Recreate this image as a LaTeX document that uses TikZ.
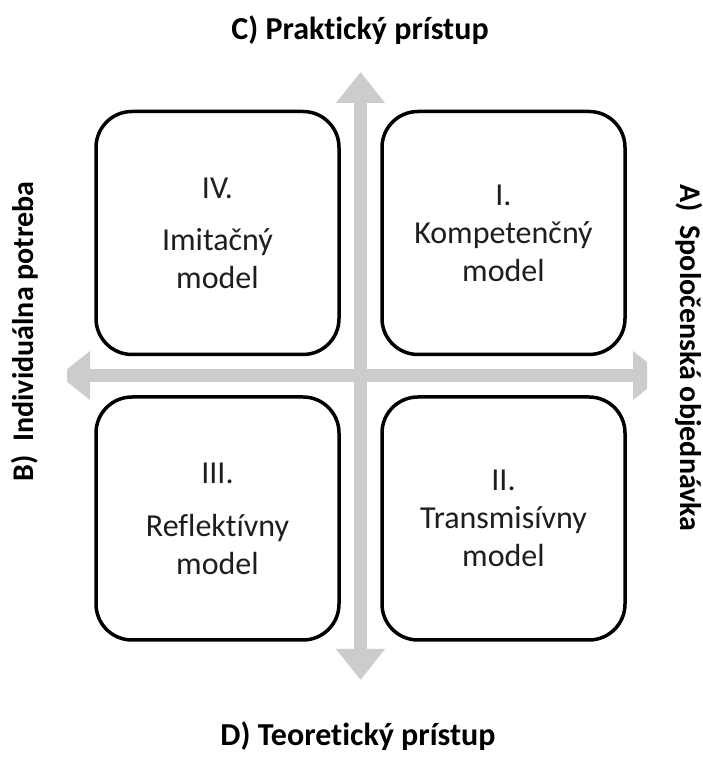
\documentclass[tikz,border=0pt]{standalone}
\usepackage{fontspec}
\setmainfont{Carlito}[Ligatures={NoCommon,TeX}]
\usetikzlibrary{arrows.meta}
\definecolor{axisgray}{RGB}{204,204,204}
\definecolor{boxtext}{RGB}{30,30,30}
\begin{document}
\begin{tikzpicture}[x=1pt,y=1pt,
  axis/.style={draw=axisgray, line width=13pt,
    {Triangle[width=47pt,length=31pt]}-{Triangle[width=47pt,length=31pt]}},
  quad/.style={draw=black, line width=3.5pt, rounded corners=36pt,
    minimum width=243pt, minimum height=243pt, align=center, inner sep=0pt,
    text=boxtext, font={\fontsize{32}{38}\selectfont}},
  axlabel/.style={font={\fontsize{30}{36}\selectfont\bfseries}, inner sep=0pt, anchor=base},
  biglabel/.style={axlabel, font={\fontsize{32}{38}\selectfont\bfseries}}]
\useasboundingbox (0,0) rectangle (703,763);
\fill[white] (0,0) rectangle (703,763);
% axes
\coordinate (vtop) at (360.5,691);
\coordinate (vbot) at (360.5,83);
\coordinate (hleft) at (59,387.5);
\coordinate (hright) at (664,387.5);
\draw[axis] (vbot) -- (vtop);
\begin{scope}
  \clip (67,0) rectangle (647,763);
  \draw[axis] (hleft) -- (hright);
\end{scope}
% quadrants
\node[quad] (q4) at (217.5,530) {IV.\\[14pt]Imitačný\\model};
\node[quad] (q1) at (503.5,530) {I.\\Kompetenčný\\model};
\node[quad] (q3) at (217.5,244.5) {III.\\[15pt]Reflektívny\\model};
\node[quad] (q2) at (503.5,244.5) {II.\\Transmisívny\\model};
% axis labels
\node[biglabel] (lc) at (360,723) {C) Praktický prístup};
\node[biglabel] (ld) at (358,17) {D) Teoretický prístup};
\node[axlabel, rotate=90] (lb) at (33,431.5) {B)\ \ Individuálna potreba};
\node[axlabel, rotate=-90] (la) at (680,405) {A)\ \ Spoločenská objednávka};
\end{tikzpicture}
\end{document}
